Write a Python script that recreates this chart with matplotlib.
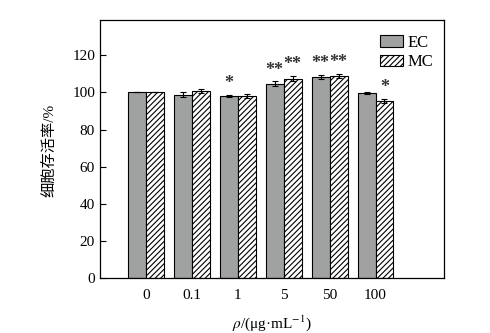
import numpy as np
import matplotlib
matplotlib.use('Agg')
import matplotlib.pyplot as plt

plt.rcParams['font.family'] = ['Liberation Serif', 'Noto Sans CJK SC']
plt.rcParams['mathtext.fontset'] = 'stix'
plt.rcParams['hatch.linewidth'] = 0.8

# ── Data ──────────────────────────────────────────────────────
doses = ['0', '0.1', '1', '5', '50', '100']
ec_mean = [100.0, 98.8, 98.2, 104.7, 108.4, 99.8]
ec_err = [0.0, 1.2, 0.5, 1.2, 1.0, 0.5]
mc_mean = [100.0, 100.9, 98.2, 107.4, 109.0, 95.5]
mc_err = [0.0, 1.0, 1.0, 1.5, 1.0, 1.2]
ec_sig = ['', '', '*', '**', '**', '']
mc_sig = ['', '', '', '**', '**', '*']

x = np.arange(len(doses))
w = 0.39

fig = plt.figure(figsize=(4.9, 3.33), dpi=100)
ax = fig.add_axes([0.204, 0.165, 0.703, 0.775])

err_kw = dict(ecolor='black', capsize=2.5, elinewidth=0.8, capthick=0.8)
ax.bar(x - w / 2, ec_mean, w, yerr=ec_err, color='#a0a2a1',
       edgecolor='black', linewidth=0.8, label='EC', error_kw=err_kw)
ax.bar(x + w / 2, mc_mean, w, yerr=mc_err, color='white',
       edgecolor='black', linewidth=0.8, hatch='//////', label='MC',
       error_kw=err_kw)

# significance marks above the error bars
for xi, m, e, s in zip(x - w / 2, ec_mean, ec_err, ec_sig):
    if s:
        ax.text(xi, m + e + 6.0, s, ha='center', va='center', fontsize=13,
                fontweight='bold', color='#333333')
for xi, m, e, s in zip(x + w / 2, mc_mean, mc_err, mc_sig):
    if s:
        ax.text(xi, m + e + 6.0, s, ha='center', va='center', fontsize=13,
                fontweight='bold', color='#333333')

ax.set_xlim(-1.0, 6.5)
ax.set_ylim(0, 139)
ax.set_yticks(np.arange(0, 121, 20))
ax.set_xticks(x)
ax.set_xticklabels(doses)
ax.tick_params(axis='y', direction='in', length=4, width=0.8, labelsize=11)
ax.tick_params(axis='x', length=0, labelsize=11, pad=8)
for sp in ax.spines.values():
    sp.set_linewidth(0.9)

ax.set_ylabel('细胞存活率/%', fontsize=11)
ax.yaxis.set_label_coords(-0.125, 0.496)
ax.set_xlabel(r'$\rho$/(μg·mL$^{-1}$)', fontsize=11, labelpad=8)

ax.legend(loc='upper right', frameon=False, fontsize=12,
          handlelength=1.36, handleheight=0.7, handletextpad=0.25,
          labelspacing=0.22, borderaxespad=0.0, borderpad=0.0,
          bbox_to_anchor=(0.967, 0.943))

plt.savefig('out.png', dpi=100)
plt.close()
